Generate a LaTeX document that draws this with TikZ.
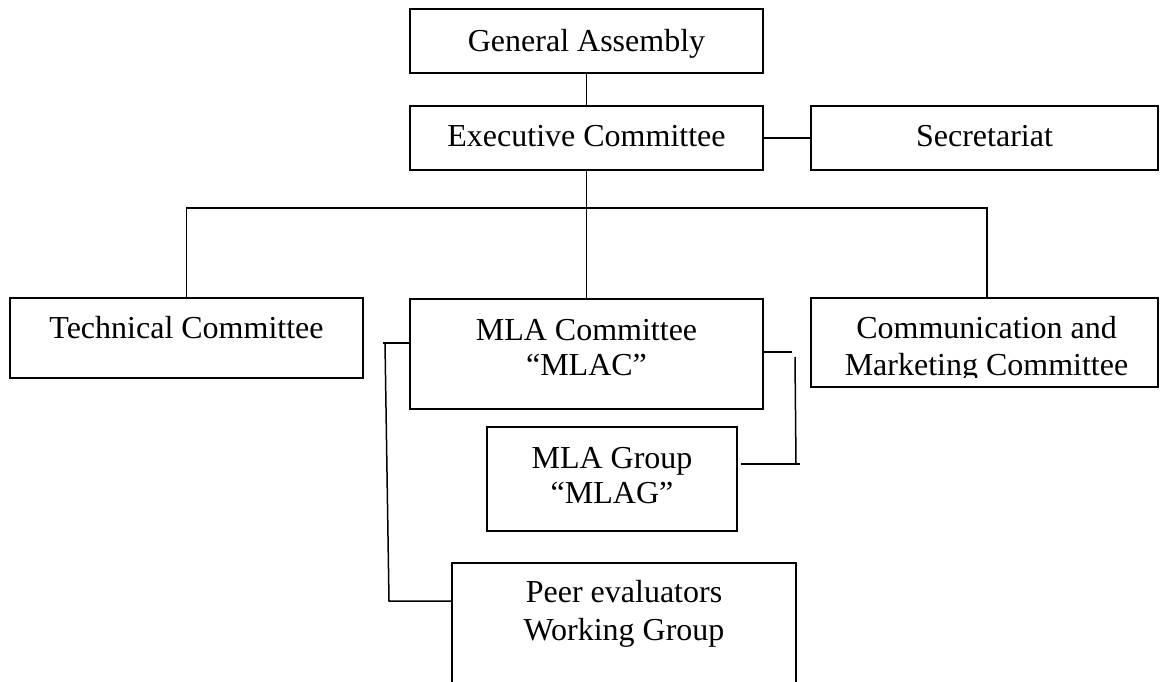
\documentclass[tikz,border=0pt]{standalone}
\usepackage{fontspec}
\setmainfont{Liberation Serif}
\begin{document}
\begin{tikzpicture}[x=1pt,y=-1pt,
  box/.style={draw=black,line width=1.5pt,inner sep=0pt,minimum width=#1},
  txt/.style={anchor=base,inner sep=0pt,font=\fontsize{32}{36}\selectfont},
  conn/.style={draw=black,line width=1.5pt}]
\clip (0,0) rectangle (1160,682);
% boxes
\node[box=353pt,minimum height=64pt] (ga) at (586.5,41) {};
\node[box=353pt,minimum height=64pt] (ec) at (586.5,138) {};
\node[box=347pt,minimum height=64pt] (sec) at (984.5,138) {};
\node[box=353pt,minimum height=80pt] (tc) at (186.5,338) {};
\node[box=353pt,minimum height=110pt] (mlac) at (586.5,354) {};
\node[box=347pt,minimum height=89pt] (cm) at (984.5,342.5) {};
\node[box=250pt,minimum height=104pt] (mlag) at (612,479) {};
\node[box=344pt,minimum height=154pt] (peer) at (624,640) {};
% texts
\node[txt] (gat) at (586.5,52) {General Assembly};
\node[txt] (ect) at (586.5,147) {Executive Committee};
\node[txt] (sect) at (984.5,147) {Secretariat};
\node[txt] (tct) at (186.5,338) {Technical Committee};
\node[txt] (mlact1) at (586.5,340) {MLA Committee};
\node[txt] (mlact2) at (586.5,375) {“MLAC”};
\node[txt] (cmt1) at (986.5,338) {Communication and};
\begin{scope}
\clip (811,300) rectangle (1158,377);
\node[txt] (cmt2) at (986.5,375) {Marketing Committee};
\end{scope}
\node[txt] (mlagt1) at (612,468) {MLA Group};
\node[txt] (mlagt2) at (612,503) {“MLAG”};
\node[txt] (peert1) at (624,602) {Peer evaluators};
\node[txt] (peert2) at (624,640) {Working Group};
% connectors
\coordinate (bus) at (587,208);
\coordinate (cmtop) at (987,298);
\draw[conn] (ga.south) -- (ec.north);
\draw[conn] (ec.south) -- (mlac.north);
\draw[conn] (tc.north) |- (bus) -| (cmtop);
\draw[conn] (ec.east) -- (sec.west);
\coordinate (lbt) at (383,343);
\coordinate (lbv) at (385,343);
\coordinate (lbb) at (389,601);
\draw[conn] (mlac.west |- lbt) -- (lbt);
\draw[conn] (lbv) -- (lbb) -- (peer.west |- lbb);
\coordinate (rb1) at (792,352);
\coordinate (rb2) at (795,357);
\coordinate (rb3) at (796,465);
\coordinate (rb4) at (800,464);
\coordinate (rb5) at (741,464);
\draw[conn] (mlac.east |- rb1) -- (rb1);
\draw[conn] (rb2) -- (rb3);
\draw[conn] (rb5) -- (rb4);
\end{tikzpicture}
\end{document}
